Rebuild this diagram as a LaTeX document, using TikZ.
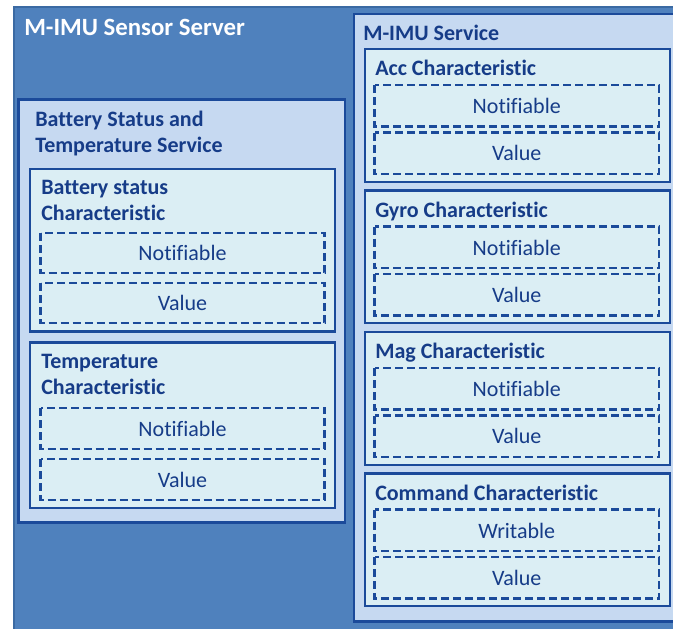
\documentclass[tikz,border=0pt]{standalone}
\usepackage{fontspec}
\setmainfont{Carlito}[Ligatures={NoCommon}]
\usetikzlibrary{positioning}

\definecolor{serverfill}{HTML}{4F81BD}
\definecolor{serverline}{HTML}{3B6AA3}
\definecolor{servicefill}{HTML}{C6D9F1}
\definecolor{charfill}{HTML}{DBEEF4}
\definecolor{boxline}{HTML}{1B4A9A}
\definecolor{textblue}{HTML}{163C88}

\tikzset{
  server/.style={fill=serverfill, draw=serverline, line width=1.5pt},
  service/.style={fill=servicefill, draw=boxline, line width=1.8pt},
  charbox/.style={fill=charfill, draw=boxline, line width=1.6pt},
  fieldbox/.style={draw=boxline, line width=1.6pt, dash pattern=on 6pt off 3pt},
  servertitle/.style={anchor=base west, inner sep=0pt, text=white,
    font=\fontsize{18.6pt}{22pt}\selectfont\bfseries},
  boxtitle/.style={anchor=base west, inner sep=0pt, text=textblue,
    font=\fontsize{16.5pt}{19.5pt}\selectfont\bfseries},
  fieldlabel/.style={anchor=base, inner sep=0pt, text=textblue,
    font=\fontsize{16.5pt}{19.5pt}\selectfont}
}

% characteristic box in the right column: #1 name, #2 top, #3 title, #4 first field
\newcommand\rightchar[4]{%
  \draw[charbox] (365,#2) rectangle (670,#2+132.7);
  \node[boxtitle] (#1-title) at (375,#2+26.5) {#3};
  \draw[fieldbox] (374.5,#2+36) rectangle (659,#2+77.5);
  \node[fieldlabel] (#1-f1) at (516.75,#2+64.5) {#4};
  \draw[fieldbox] (374.5,#2+83.5) rectangle (659,#2+125);
  \node[fieldlabel] (#1-f2) at (516.75,#2+111.5) {Value};
}

% characteristic box in the left column: #1 name, #2 top, #3 bottom,
% #4/#5 title lines, #6/#7 first field top/bottom, #8/#9 second field top/bottom
\newcommand\leftchar[9]{%
  \draw[charbox] (30,#2) rectangle (335,#3);
  \node[boxtitle] (#1-title-a) at (41,#2+25.5) {#4};
  \node[boxtitle] (#1-title-b) at (41,#2+51.5) {#5};
  \draw[fieldbox] (40.5,#6) rectangle (324.5,#7);
  \node[fieldlabel] (#1-f1) at (182.5,#6/2+#7/2+7.5) {Notifiable};
  \draw[fieldbox] (40.5,#8) rectangle (324.5,#9);
  \node[fieldlabel] (#1-f2) at (182.5,#8/2+#9/2+7.5) {Value};
}

\begin{document}
\begin{tikzpicture}[x=0.75pt, y=-0.75pt]
  \useasboundingbox (0,0) rectangle (673,628);
  \clip (0,0) rectangle (673,628);

  % sensor server
  \draw[server] (13.5,6.5) rectangle (700,660);
  \node[servertitle] (server-title) at (24,35.5) {M-IMU Sensor Server};

  % battery status and temperature service
  \draw[service] (18.5,99.5) rectangle (345,522.5);
  \node[boxtitle] (bts-title-a) at (35,126.5) {Battery Status and};
  \node[boxtitle] (bts-title-b) at (35,152.5) {Temperature Service};
  \leftchar{batt}{169}{331.5}{Battery status}{Characteristic}{233}{273}{283}{323}
  \leftchar{temp}{342.5}{508}{Temperature}{Characteristic}{408}{449}{459}{500}

  % M-IMU service
  \draw[service] (354,14) rectangle (700,621.5);
  \node[boxtitle] (imu-title) at (363,40.5) {M-IMU Service};
  \rightchar{acc}{49}{Acc Characteristic}{Notifiable}
  \rightchar{gyro}{190.5}{Gyro Characteristic}{Notifiable}
  \rightchar{mag}{332}{Mag Characteristic}{Notifiable}
  \rightchar{cmd}{473.5}{Command Characteristic}{Writable}
\end{tikzpicture}
\end{document}
